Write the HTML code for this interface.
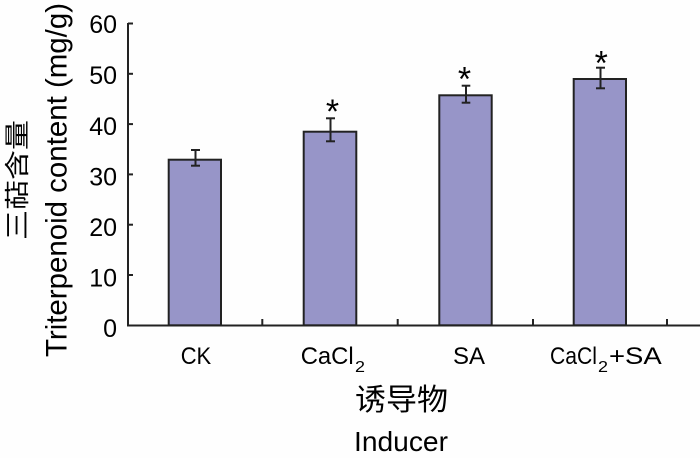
<!DOCTYPE html>
<html>
<head>
<meta charset="utf-8">
<style>
  html,body{margin:0;padding:0;background:#fefefe;}
  svg{display:block;}
  text{font-family:"Liberation Sans","Noto Sans CJK SC",sans-serif;fill:#000;}
</style>
</head>
<body>
<svg width="700" height="458" viewBox="0 0 700 458" xmlns="http://www.w3.org/2000/svg">
  <rect x="0" y="0" width="700" height="458" fill="#fefefe"/>

  <!-- bars -->
  <g fill="#9795c8" stroke="#222" stroke-width="2">
    <rect x="168.7" y="159.7" width="52.3" height="165.6"/>
    <rect x="303.7" y="131.7" width="52.6" height="193.6"/>
    <rect x="439.3" y="95.3" width="52.4" height="230"/>
    <rect x="573.7" y="79" width="52.3" height="246.3"/>
  </g>

  <!-- error bars -->
  <g stroke="#222" stroke-width="2" fill="none">
    <line x1="195.5" y1="150" x2="195.5" y2="165.7"/>
    <line x1="191" y1="150" x2="200" y2="150"/>
    <line x1="191" y1="165.7" x2="200" y2="165.7"/>

    <line x1="330.5" y1="118.3" x2="330.5" y2="141.3"/>
    <line x1="326" y1="118.3" x2="335" y2="118.3"/>
    <line x1="326" y1="141.3" x2="335" y2="141.3"/>

    <line x1="466" y1="85.7" x2="466" y2="102.7"/>
    <line x1="461.7" y1="85.7" x2="470.3" y2="85.7"/>
    <line x1="461.7" y1="102.7" x2="470.3" y2="102.7"/>

    <line x1="600.5" y1="67.7" x2="600.5" y2="88.3"/>
    <line x1="596" y1="67.7" x2="605" y2="67.7"/>
    <line x1="596" y1="88.3" x2="605" y2="88.3"/>
  </g>

  <!-- significance stars -->
  <g font-size="34" text-anchor="middle">
    <text x="332.5" y="123">*</text>
    <text x="464.5" y="90.5">*</text>
    <text x="601.3" y="74.5">*</text>
  </g>

  <!-- axes -->
  <g stroke="#222" stroke-width="2" fill="none">
    <line x1="128" y1="23" x2="128" y2="326.3"/>
    <line x1="127" y1="325.5" x2="700" y2="325.5"/>
    <line x1="128" y1="275" x2="133" y2="275"/>
    <line x1="128" y1="224.7" x2="133" y2="224.7"/>
    <line x1="128" y1="174.4" x2="133" y2="174.4"/>
    <line x1="128" y1="124.1" x2="133" y2="124.1"/>
    <line x1="128" y1="73.8" x2="133" y2="73.8"/>
    <line x1="128" y1="23.5" x2="133" y2="23.5"/>
    <line x1="262.3" y1="319" x2="262.3" y2="325"/>
    <line x1="397.7" y1="319" x2="397.7" y2="325"/>
    <line x1="533" y1="319" x2="533" y2="325"/>
    <line x1="667" y1="319" x2="667" y2="325"/>
  </g>

  <!-- y tick labels -->
  <g font-size="25" text-anchor="end">
    <text x="117" y="337">0</text>
    <text x="117" y="286.5">10</text>
    <text x="117" y="236">20</text>
    <text x="117" y="185.5">30</text>
    <text x="117" y="135">40</text>
    <text x="117" y="84">50</text>
    <text x="117" y="33">60</text>
  </g>

  <!-- x category labels -->
  <g font-size="24">
    <text x="180.7" y="364" textLength="30.5" lengthAdjust="spacingAndGlyphs">CK</text>
    <text x="300.7" y="364" textLength="53" lengthAdjust="spacingAndGlyphs">CaCl</text>
    <text x="355" y="372" font-size="16" textLength="10" lengthAdjust="spacingAndGlyphs">2</text>
    <text x="453" y="364" textLength="32" lengthAdjust="spacingAndGlyphs">SA</text>
    <text x="550" y="364" textLength="47" lengthAdjust="spacingAndGlyphs">CaCl</text>
    <text x="598" y="372" font-size="16" textLength="10" lengthAdjust="spacingAndGlyphs">2</text>
    <text x="609" y="364" textLength="52.7" lengthAdjust="spacingAndGlyphs">+SA</text>
  </g>

  <!-- x axis titles -->
  <text x="355" y="410" font-size="30" font-family="'Noto Sans CJK SC',sans-serif" textLength="93" lengthAdjust="spacingAndGlyphs">诱导物</text>
  <text x="354" y="451" font-size="28" textLength="94" lengthAdjust="spacingAndGlyphs">Inducer</text>

  <!-- y axis titles -->
  <text transform="translate(66.7,357) rotate(-90)" x="0" y="0" font-size="30" textLength="354" lengthAdjust="spacingAndGlyphs">Triterpenoid content (mg/g)</text>
  <text transform="translate(26,240) rotate(-90)" x="0" y="0" font-size="25" font-family="'Noto Sans CJK SC',sans-serif" textLength="120" lengthAdjust="spacingAndGlyphs">三萜含量</text>
</svg>
</body>
</html>
